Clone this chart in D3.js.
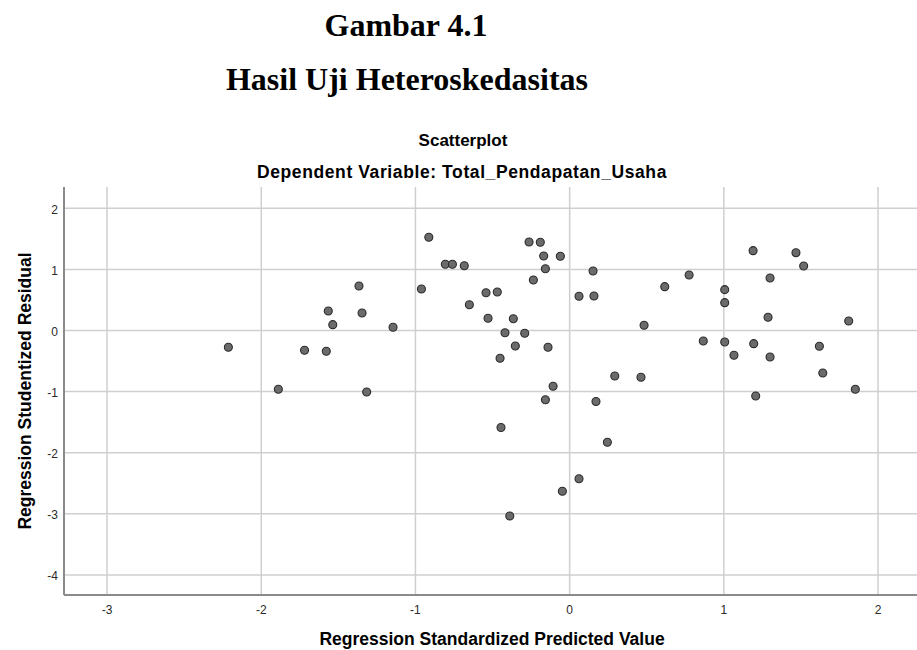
<!DOCTYPE html>
<html>
<head>
<meta charset="utf-8">
<script src="https://cdn.jsdelivr.net/npm/d3@7"></script>
<style>
  body { margin: 0; background: #fff; }
  svg { display: block; }
</style>
</head>
<body>
<div id="graph"></div>
<script>
let predicted = [
  -2.210, -1.886, -1.716, -1.575, -1.562, -1.533, -1.363, -1.343, -1.313, -1.142,
  -0.958, -0.910, -0.803, -0.757, -0.680, -0.647, -0.539, -0.466, -0.526, -0.362,
  -0.416, -0.288, -0.349, -0.448, -0.137, -0.260, -0.187, -0.165, -0.057, -0.154,
  -0.232, 0.155, 0.064, 0.161, -0.104, -0.154, 0.174, 0.296, -0.442, 0.466,
  0.486, 0.620, 0.778, 0.870, 1.009, 1.009, 1.009, 1.069, 1.193, 1.197,
  1.210, 1.290, 1.303, 1.303, 1.471, 1.521, 1.623, 1.645, 1.813, 1.856,
  0.248, 0.064, -0.044, -0.385
];
let residual = [
  -0.283, -0.971, -0.331, -0.349, 0.311, 0.087, 0.720, 0.278, -1.015, 0.044,
  0.671, 1.517, 1.075, 1.075, 1.052, 0.414, 0.610, 0.622, 0.191, 0.185,
  -0.044, -0.054, -0.262, -0.463, -0.283, 1.440, 1.435, 1.211, 1.206, 1.003,
  0.818, 0.966, 0.552, 0.556, -0.921, -1.141, -1.170, -0.753, -1.596, -0.774,
  0.077, 0.709, 0.900, -0.180, 0.660, 0.447, -0.196, -0.414, 1.298, -0.224,
  -1.080, 0.208, 0.851, -0.442, 1.265, 1.047, -0.267, -0.704, 0.147, -0.971,
  -1.838, -2.434, -2.640, -3.044
];
let xTicks = [-3, -2, -1, 0, 1, 2];
let yTicks = [2, 1, 0, -1, -2, -3, -4];

let points = predicted.map(function(d, i) { return {x: d, y: residual[i]}; });

let width = 917, height = 650;
let plot = {left: 64, right: 917, top: 187, bottom: 595};

let x = d3.scaleLinear().domain([-3.276, 2.256]).range([plot.left, plot.right]);
let y = d3.scaleLinear().domain([-4.337, 2.340]).range([plot.bottom, plot.top]);

let svg = d3.select('div#graph').append('svg')
  .attr('width', width)
  .attr('height', height);

// report headings
svg.append('text')
  .attr('x', 406).attr('y', 36)
  .attr('text-anchor', 'middle')
  .style('font-family', '"Liberation Serif", "Times New Roman", serif')
  .style('font-weight', 'bold')
  .style('font-size', '32px')
  .text('Gambar 4.1');

svg.append('text')
  .attr('x', 407).attr('y', 90)
  .attr('text-anchor', 'middle')
  .style('font-family', '"Liberation Serif", "Times New Roman", serif')
  .style('font-weight', 'bold')
  .style('font-size', '32px')
  .text('Hasil Uji Heteroskedasitas');

let sans = '"Liberation Sans", Arial, sans-serif';

svg.append('text')
  .attr('x', 463).attr('y', 146)
  .attr('text-anchor', 'middle')
  .style('font-family', sans)
  .style('font-weight', 'bold')
  .style('font-size', '17px')
  .text('Scatterplot');

svg.append('text')
  .attr('x', 462).attr('y', 178)
  .attr('text-anchor', 'middle')
  .style('font-family', sans)
  .style('font-weight', 'bold')
  .style('font-size', '17.5px')
  .style('letter-spacing', '0.6px')
  .text('Dependent Variable: Total_Pendapatan_Usaha');

// grid, SPSS style labels use a plain hyphen for negatives
let fmt = function(d) { return String(d); };
let xAxis = d3.axisBottom(x).tickValues(xTicks)
  .tickSize(-(plot.bottom - plot.top)).tickPadding(10)
  .tickFormat(fmt);
let yAxis = d3.axisLeft(y).tickValues(yTicks)
  .tickSize(-(plot.right - plot.left)).tickPadding(6)
  .tickFormat(fmt);

let gx = svg.append('g')
  .attr('class', 'x axis')
  .attr('transform', 'translate(0,' + plot.bottom + ')')
  .call(xAxis);

let gy = svg.append('g')
  .attr('class', 'y axis')
  .attr('transform', 'translate(' + plot.left + ',0)')
  .call(yAxis);

[gx, gy].forEach(function(g) {
  g.select('.domain').remove();
  g.selectAll('.tick line')
    .attr('stroke', '#cfcfcf')
    .attr('stroke-width', 1.5);
  g.selectAll('.tick text')
    .attr('fill', '#2a2a2a')
    .style('font-family', sans)
    .style('font-size', '12px');
});
gy.selectAll('.tick text').attr('dy', '0.45em');

// axis lines
svg.append('line')
  .attr('x1', plot.left).attr('x2', plot.left)
  .attr('y1', plot.top).attr('y2', plot.bottom)
  .attr('stroke', '#8a8a8a').attr('stroke-width', 2);
svg.append('line')
  .attr('x1', plot.left).attr('x2', plot.right)
  .attr('y1', plot.bottom).attr('y2', plot.bottom)
  .attr('stroke', '#8a8a8a').attr('stroke-width', 2);

// points
svg.append('g')
  .selectAll('circle')
  .data(points)
  .enter().append('circle')
  .attr('cx', function(d) { return x(d.x); })
  .attr('cy', function(d) { return y(d.y); })
  .attr('r', 4)
  .attr('fill', '#6b6b6b')
  .attr('stroke', '#2b2b2b')
  .attr('stroke-width', 1.1);

// axis titles
svg.append('text')
  .attr('x', 492).attr('y', 645)
  .attr('text-anchor', 'middle')
  .style('font-family', sans)
  .style('font-weight', 'bold')
  .style('font-size', '17.5px')
  .text('Regression Standardized Predicted Value');

svg.append('text')
  .attr('transform', 'translate(31,391) rotate(-90)')
  .attr('text-anchor', 'middle')
  .style('font-family', sans)
  .style('font-weight', 'bold')
  .style('font-size', '17.5px')
  .text('Regression Studentized Residual');
</script>
</body>
</html>
